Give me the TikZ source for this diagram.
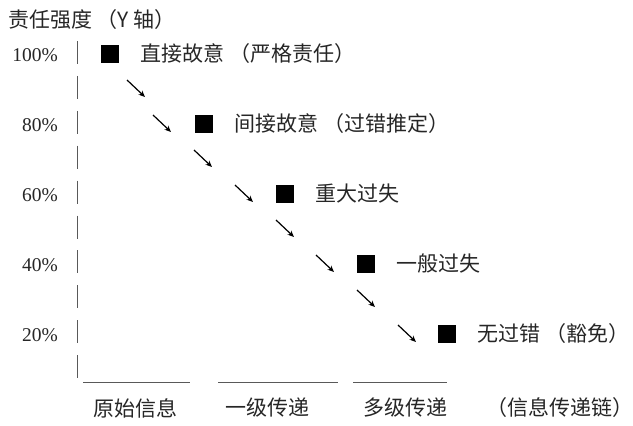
\documentclass[tikz,border=0pt]{standalone}
\usepackage{fontspec}
\setmainfont{Liberation Serif}
\newfontfamily\cjk{Noto Sans CJK SC}
\usetikzlibrary{arrows.meta,positioning}

\begin{document}
\begin{tikzpicture}[
  x=1pt, y=-1pt,
  every node/.style={inner sep=0pt, text=black!85, font=\cjk\fontsize{21}{25}\selectfont},
  sqbox/.style={fill=black, minimum size=18pt},
  pct/.style={anchor=east, font=\fontsize{19.5}{23}\selectfont},
  tip/.style={-{Stealth[length=6.5pt,width=5.5pt]}, line width=1.2pt},
  axis/.style={draw=black!65, line width=1pt}
]
\useasboundingbox (0,0) rectangle (633,426);

\node[anchor=west] (title) at (8,20) {责任强度 （Y 轴）};

% y axis with percent marks
\coordinate (ytop) at (77,41);
\coordinate (ybot) at (77,381);
\draw[axis, dash pattern=on 23pt off 11.9pt] (ytop) -- (ybot);
\foreach \p/\y in {100/54,80/124,60/194,40/264,20/334}
  \node[pct] (p\p) at (58,\y+1) {\p\%};

% levels
\node[sqbox] (sq1) at (110,54) {};
\node[sqbox] (sq2) at (204,124) {};
\node[sqbox] (sq3) at (285,194) {};
\node[sqbox] (sq4) at (366,264) {};
\node[sqbox] (sq5) at (447,334) {};
\node[right=21pt of sq1] (lab1) {直接故意 （严格责任）};
\node[right=21pt of sq2] (lab2) {间接故意 （过错推定）};
\node[right=21pt of sq3] (lab3) {重大过失};
\node[right=21pt of sq4] (lab4) {一般过失};
\node[right=21pt of sq5] (lab5) {无过错 （豁免）};

% small arrows
\foreach \x/\y [count=\i] in {127/80,153/115,194/150,235/185,276/220,316/255,357/290,398/325} {
  \coordinate (s\i) at (\x,\y);
  \coordinate (e\i) at (\x+18,\y+17);
  \draw[tip] (s\i) -- (e\i);
}

% x axis pieces
\foreach \a/\b [count=\i] in {83/190,218/338,353/447} {
  \coordinate (l\i) at (\a,382);
  \coordinate (r\i) at (\b,382);
  \draw[axis] (l\i) -- (r\i);
}
\node (c1) at (135,408) {原始信息};
\node (c2) at (267,408) {一级传递};
\node (c3) at (405,408) {多级传递};
\node (c4) at (560,408) {（信息传递链）};
\end{tikzpicture}
\end{document}
